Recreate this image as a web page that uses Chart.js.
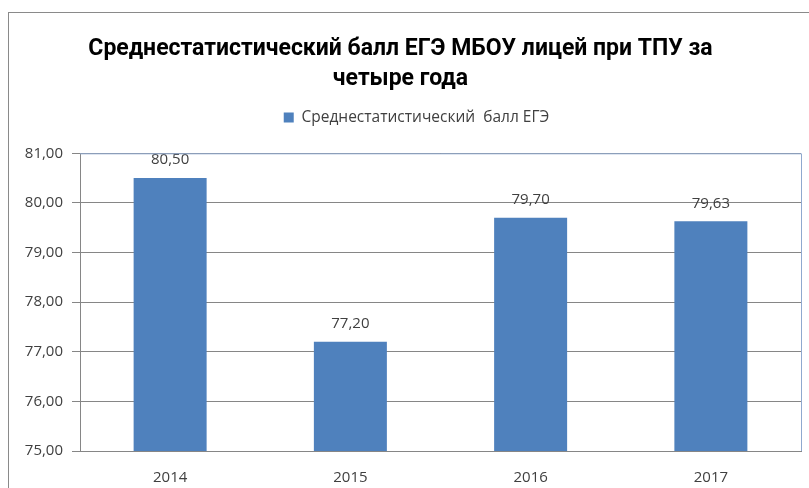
<!DOCTYPE html>
<html>
<head>
<meta charset="utf-8">
<script src="https://cdn.jsdelivr.net/npm/chart.js@4.4.1/dist/chart.umd.min.js"></script>
<style>
  html, body { margin: 0; padding: 0; background: #fff; }
  #wrap { width: 809px; height: 488px; }
</style>
</head>
<body>
<div id="wrap"><canvas id="chart" width="809" height="488"></canvas></div>
<script>
const years = ['2014', '2015', '2016', '2017'];
const scores = [80.50, 77.20, 79.70, 79.63];
const seriesName = 'Среднестатистический  балл ЕГЭ';
const titleLines = ['Среднестатистический балл ЕГЭ МБОУ лицей при ТПУ за', 'четыре года'];
const yMin = 75, yMax = 81, yStep = 1;

const fmt = v => Number(v).toFixed(2).replace('.', ',');
const FONT = "'Open Sans', 'DejaVu Sans', sans-serif";
const TITLE_FONT = "Roboto, 'Open Sans', sans-serif";

const frame = {
  id: 'frame',
  beforeInit(chart) {
    // leave extra room between the legend and the plot area
    const fit = chart.legend.fit;
    chart.legend.fit = function () {
      fit.call(this);
      this.height += 18;
    };
  },
  afterLayout(chart) {
    // legend sits a little right of centre in the original
    chart.legend.left += 16;
    chart.legend.right += 16;
  },
  beforeDraw(chart) {
    const c = chart.ctx;
    c.save();
    c.fillStyle = '#fff';
    c.fillRect(0, 0, chart.width, chart.height);
    c.strokeStyle = '#8a8a8a';
    c.lineWidth = 1;
    c.strokeRect(8.5, 12.5, 900, 600);
    c.restore();
  },
  afterDraw(chart) {
    const a = chart.chartArea, c = chart.ctx;
    c.save();
    c.strokeStyle = '#8fa9cf';
    c.lineWidth = 1;
    c.beginPath();
    c.moveTo(a.left, a.top + 0.5);
    c.lineTo(Math.round(a.right) + 0.5, a.top + 0.5);
    c.lineTo(Math.round(a.right) + 0.5, a.bottom);
    c.stroke();
    c.restore();
  }
};

const valueLabels = {
  id: 'valueLabels',
  afterDatasetsDraw(chart) {
    const c = chart.ctx;
    c.save();
    c.font = '15px ' + FONT;
    c.fillStyle = '#404040';
    c.textAlign = 'center';
    c.textBaseline = 'middle';
    chart.getDatasetMeta(0).data.forEach((bar, i) => {
      c.fillText(fmt(chart.data.datasets[0].data[i]), bar.x, bar.y - 18);
    });
    c.restore();
  }
};

new Chart(document.getElementById('chart'), {
  type: 'bar',
  data: {
    labels: years,
    datasets: [{
      label: seriesName,
      data: scores,
      backgroundColor: '#4f81bd',
      categoryPercentage: 1,
      barPercentage: 0.405
    }]
  },
  options: {
    responsive: false,
    animation: false,
    layout: { padding: { left: 0, right: 8, top: 18, bottom: 0 } },
    plugins: {
      title: {
        display: true,
        text: titleLines,
        color: '#000',
        font: { family: TITLE_FONT, size: 23, weight: 'bold', lineHeight: 1.3 },
        padding: { top: 16, bottom: 6 }
      },
      legend: {
        display: true,
        labels: {
          boxWidth: 10, boxHeight: 10,
          color: '#404040',
          font: { family: FONT, size: 15.5 },
          padding: 10
        }
      },
      tooltip: { enabled: false }
    },
    scales: {
      x: {
        grid: { display: false },
        border: { display: true, color: '#868686' },
        ticks: { color: '#404040', font: { family: FONT, size: 15 }, padding: 10 },
        afterFit: s => { s.height = 37; }
      },
      y: {
        min: yMin, max: yMax,
        grid: { color: '#868686', tickLength: 8, tickColor: '#868686' },
        border: { display: true, color: '#868686' },
        ticks: {
          stepSize: yStep,
          color: '#404040',
          font: { family: FONT, size: 15 },
          padding: 9,
          callback: v => fmt(v)
        },
        afterFit: s => { s.width = 80; }
      }
    }
  },
  plugins: [frame, valueLabels]
});
</script>
</body>
</html>
